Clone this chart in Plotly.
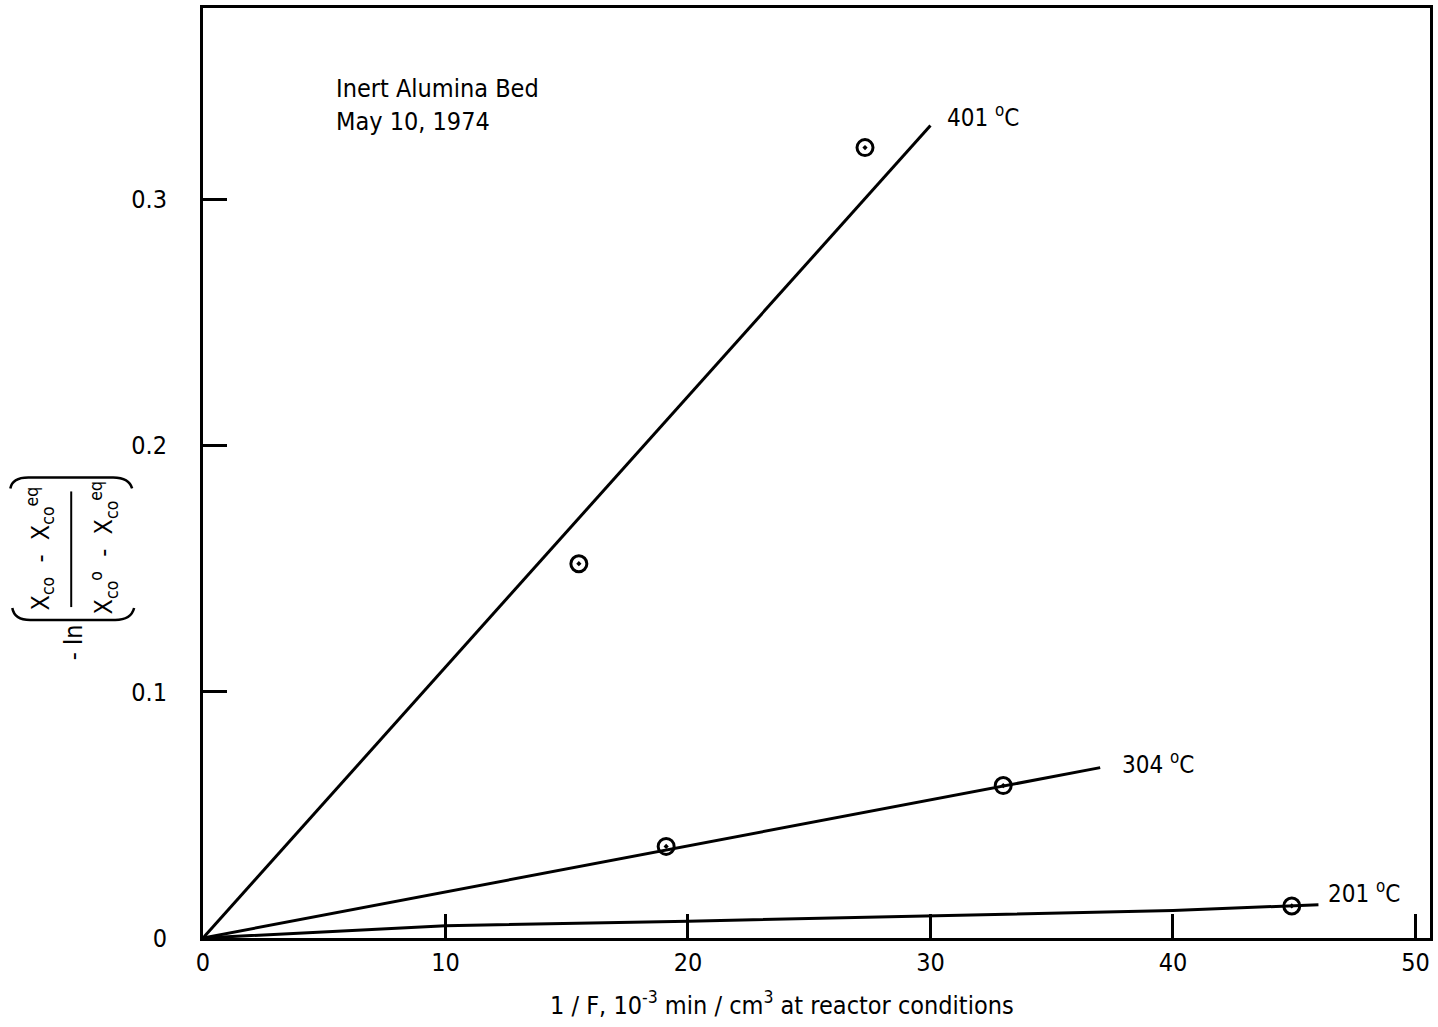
import plotly.graph_objects as go

# ---- data ----
x401_pts = [15.5, 27.3]
y401_pts = [0.152, 0.321]
x304_pts = [19.1, 33.0]
y304_pts = [0.0372, 0.0619]
x201_pts = [44.9]
y201_pts = [0.013]

x401_line = [0, 30]
y401_line = [0, 0.330]
x304_line = [0, 37]
y304_line = [0, 0.0692]
x201_line = [0, 4, 10, 20, 30, 40, 46]
y201_line = [0, 0.002, 0.0050, 0.0068, 0.0090, 0.0112, 0.0135]

x_ticks = [0, 10, 20, 30, 40, 50]
y_ticks = [0, 0.1, 0.2, 0.3]
y_tick_text = ["0", "0.1", "0.2", "0.3"]

labels = [("401 <sup>o</sup>C", 30.6, 0.3337),
          ("304 <sup>o</sup>C", 37.8, 0.0712),
          ("201 <sup>o</sup>C", 46.3, 0.0188)]

FONT = "DejaVu Sans Condensed, Liberation Sans Narrow, Open Sans, sans-serif"
W, H = 1438, 1027
L, R, T, B = 203, 1432, 5, 938


def px(xp):
    return (xp - L) / (R - L)


def py(yp):
    return (B - yp) / (B - T)


fig = go.Figure()
for xs, ys in [(x401_line, y401_line), (x304_line, y304_line), (x201_line, y201_line)]:
    fig.add_trace(go.Scatter(x=xs, y=ys, mode="lines",
                             line=dict(color="black", width=3), showlegend=False))
for xs, ys in [(x401_pts, y401_pts), (x304_pts, y304_pts), (x201_pts, y201_pts)]:
    fig.add_trace(go.Scatter(x=xs, y=ys, mode="markers", showlegend=False,
                             marker=dict(symbol="circle-open-dot", size=16, color="black",
                                         line=dict(color="black", width=3))))

ann = []
for txt, xv, yv in labels:
    ann.append(dict(x=xv, y=yv, xref="x", yref="y", text=txt, showarrow=False,
                    xanchor="left", yanchor="middle", font=dict(size=24, color="black", family=FONT)))

ann.append(dict(x=5.4, y=0.3517, xref="x", yref="y", text="Inert Alumina Bed<br>May 10, 1974",
                showarrow=False, xanchor="left", yanchor="top", align="left",
                font=dict(size=25, color="black", family=FONT)))

ann.append(dict(x=px(783), y=py(1004), xref="paper", yref="paper",
                text="1 / F, 10<sup>-3</sup> min / cm<sup>3</sup> at reactor conditions",
                showarrow=False, xanchor="center", yanchor="middle",
                font=dict(size=25, color="black", family=FONT)))

# rotated y-axis label built from pieces
ann.append(dict(x=px(40), y=py(547), xref="paper", yref="paper", textangle=-90,
                text="X<sub>co</sub>  -  X<sub>co</sub><sup>eq</sup>", showarrow=False,
                xanchor="center", yanchor="middle", font=dict(size=25, color="black", family=FONT)))
ann.append(dict(x=px(104), y=py(547), xref="paper", yref="paper", textangle=-90,
                text="X<sub>co</sub><sup>o</sup>  -  X<sub>co</sub><sup>eq</sup>", showarrow=False,
                xanchor="center", yanchor="middle", font=dict(size=25, color="black", family=FONT)))
ann.append(dict(x=px(74), y=py(641), xref="paper", yref="paper", textangle=-90,
                text="- ln", showarrow=False,
                xanchor="center", yanchor="middle", font=dict(size=25, color="black", family=FONT)))

shapes = [
    dict(type="line", xref="paper", yref="paper", x0=px(71), x1=px(71), y0=py(490), y1=py(606),
         line=dict(color="black", width=2)),
    dict(type="path", xref="paper", yref="paper",
         path=f"M {px(12)},{py(607)} Q {px(14)},{py(619)} {px(30)},{py(619)} L {px(115)},{py(619)} "
              f"Q {px(131)},{py(619)} {px(134)},{py(607)}",
         line=dict(color="black", width=2.5)),
    dict(type="path", xref="paper", yref="paper",
         path=f"M {px(10)},{py(487)} Q {px(12)},{py(476)} {px(28)},{py(476)} L {px(113)},{py(476)} "
              f"Q {px(129)},{py(476)} {px(132)},{py(487)}",
         line=dict(color="black", width=2.5)),
]

axis_common = dict(showgrid=False, zeroline=False, showline=True, linecolor="black", linewidth=3,
                   mirror=True, ticks="inside", ticklen=24, tickwidth=3, tickcolor="black",
                   tickfont=dict(size=25, color="black", family=FONT))

fig.update_layout(
    width=W, height=H,
    margin=dict(l=L, r=W - R, t=T, b=H - B),
    paper_bgcolor="white", plot_bgcolor="white",
    xaxis=dict(range=[0, 50.6], tickvals=x_ticks, ticklabelstandoff=0, **axis_common),
    yaxis=dict(range=[0, 0.3777], tickvals=y_ticks, ticktext=y_tick_text,
               ticklabelstandoff=28, **axis_common),
    annotations=ann, shapes=shapes,
)

fig.write_html("out.html", config={"displayModeBar": False},
               post_script="document.body.style.margin='0';")
